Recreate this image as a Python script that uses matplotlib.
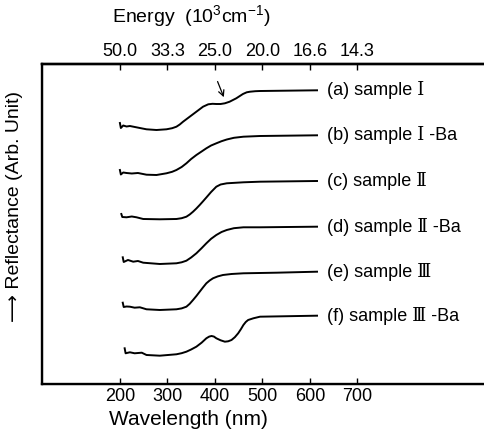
import numpy as np
import matplotlib
matplotlib.use("Agg")
import matplotlib.pyplot as plt

plt.rcParams['font.family'] = ['Liberation Sans', 'DejaVu Serif']
plt.rcParams['mathtext.fontset'] = 'custom'
plt.rcParams['mathtext.rm'] = 'Liberation Sans'
plt.rcParams['mathtext.it'] = 'Liberation Sans'

# wavelength (nm) / reflectance (arb. unit, curves already stacked)
wl_a = [200, 202, 207, 214, 221, 242, 256, 277, 298, 310, 319, 326, 333, 347, 361, 375, 386, 395, 403, 412, 421, 431, 445, 459, 467, 474, 485, 495, 615]
r_a = [26.1, 25.6, 25.85, 25.75, 25.8, 25.6, 25.47, 25.4, 25.47, 25.58, 25.73, 25.95, 26.23, 26.73, 27.23, 27.73, 27.97, 28.02, 28.0, 28.0, 28.07, 28.23, 28.57, 29.0, 29.17, 29.23, 29.28, 29.3, 29.37]

wl_b = [200, 202, 207, 214, 225, 238, 256, 277, 298, 310, 319, 330, 340, 350, 361, 372, 382, 392, 403, 414, 425, 440, 460, 495, 615]
r_b = [21.4, 20.95, 21.15, 21.1, 21.05, 21.1, 20.93, 20.9, 21.07, 21.22, 21.4, 21.7, 22.07, 22.5, 22.9, 23.25, 23.57, 23.85, 24.07, 24.28, 24.45, 24.62, 24.73, 24.8, 24.87]

wl_c = [203, 205, 214, 225, 235, 249, 284, 319, 330, 340, 347, 354, 361, 368, 375, 382, 392, 403, 412, 425, 460, 495, 615]
r_c = [17.0, 16.7, 16.67, 16.75, 16.67, 16.5, 16.47, 16.5, 16.58, 16.73, 16.95, 17.23, 17.55, 17.9, 18.27, 18.65, 19.2, 19.73, 19.95, 20.07, 20.17, 20.23, 20.3]

wl_d = [206, 208, 217, 228, 238, 249, 284, 319, 330, 340, 350, 361, 372, 382, 392, 403, 414, 425, 440, 460, 495, 615]
r_d = [12.67, 12.2, 12.4, 12.23, 12.3, 12.13, 12.0, 12.07, 12.17, 12.33, 12.65, 13.07, 13.58, 14.07, 14.52, 14.9, 15.2, 15.4, 15.58, 15.67, 15.67, 15.73]

wl_e = [206, 208, 214, 221, 231, 242, 256, 284, 319, 330, 340, 347, 354, 361, 368, 375, 382, 389, 396, 406, 417, 435, 460, 530, 615]
r_e = [8.13, 7.7, 7.75, 7.73, 7.63, 7.67, 7.47, 7.4, 7.47, 7.56, 7.73, 8.02, 8.4, 8.8, 9.23, 9.66, 10.07, 10.35, 10.57, 10.76, 10.9, 11.0, 11.07, 11.13, 11.23]

wl_f = [210, 212, 221, 231, 246, 256, 284, 319, 330, 340, 350, 361, 372, 382, 388, 393, 398, 403, 412, 421, 428, 435, 442, 449, 455, 460, 465, 470, 481, 495, 615]
r_f = [3.57, 3.07, 3.17, 3.07, 3.13, 2.9, 2.83, 2.97, 3.08, 3.23, 3.45, 3.73, 4.13, 4.57, 4.74, 4.8, 4.74, 4.57, 4.37, 4.23, 4.27, 4.4, 4.68, 5.07, 5.5, 5.9, 6.2, 6.4, 6.57, 6.73, 6.83]

series = [
    (wl_a, r_a, "(a) sample Ⅰ"),
    (wl_b, r_b, "(b) sample Ⅰ -Ba"),
    (wl_c, r_c, "(c) sample Ⅱ"),
    (wl_d, r_d, "(d) sample Ⅱ -Ba"),
    (wl_e, r_e, "(e) sample Ⅲ"),
    (wl_f, r_f, "(f) sample Ⅲ -Ba"),
]

wl_ticks = [200, 300, 400, 500, 600, 700]
energy_labels = ["50.0", "33.3", "25.0", "20.0", "16.6", "14.3"]

fig = plt.figure(figsize=(4.84, 4.36), dpi=100)
ax = fig.add_axes([0.0868, 0.1193, 0.946, 0.7339])

for wl, r, lab in series:
    ax.plot(wl, r, color='black', lw=1.4)
    ax.annotate(lab, xy=(wl[-1], r[-1]), xytext=(7, 0), textcoords='offset points',
                va='center', ha='left', fontsize=13)

# arrow pointing at the shoulder of curve (a)
i_sh = wl_a.index(421)
ax.annotate("", xy=(wl_a[i_sh], r_a[i_sh] + 0.35), xytext=(-6, 15), textcoords='offset points',
            arrowprops=dict(arrowstyle='->', color='black', lw=0.9))

ax.set_xlim(36, 1000)
ax.set_ylim(0, 32)
ax.set_xticks(wl_ticks)
ax.set_xticklabels([str(t) for t in wl_ticks], fontsize=13)
ax.set_yticks([])
ax.tick_params(axis='x', direction='in', length=4, width=1, pad=3)
for s in ax.spines.values():
    s.set_linewidth(1.7)

top = ax.twiny()
top.set_xlim(ax.get_xlim())
top.set_xticks(wl_ticks)
top.set_xticklabels(energy_labels, fontsize=13)
top.tick_params(axis='x', direction='in', length=4, width=1, pad=3)
top.spines['top'].set_linewidth(1.7)

fig.text(188 / 484, 1 - 419 / 436, "Wavelength (nm)", ha='center', va='center', fontsize=15)
fig.text(191 / 484, 1 - 16 / 436, "Energy  (10$^{3}$cm$^{-1}$)", ha='center', va='center', fontsize=14)
fig.text(15 / 484, 1 - 206 / 436, "⟶ Reflectance (Arb. Unit)", rotation=90,
         ha='center', va='center', fontsize=14, family=['Liberation Sans', 'DejaVu Sans'])

fig.savefig("out.png", dpi=100)
